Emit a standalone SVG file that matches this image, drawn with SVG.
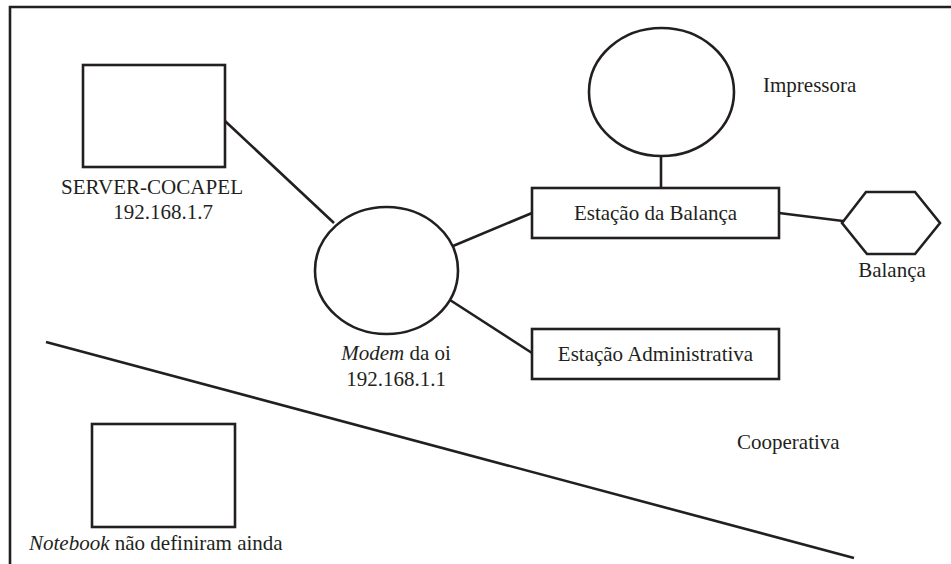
<svg xmlns="http://www.w3.org/2000/svg" width="951" height="564" viewBox="0 0 951 564">
<style>
.s{fill:none;stroke:#231f20;stroke-width:2.6}
.n{fill:#fff;stroke:#231f20;stroke-width:2.6}
text{font-size:21px;fill:#231f20}
.c{text-anchor:middle}
</style>
<rect width="951" height="564" fill="#fff"/>
<g id="frame">
<path class="s" d="M10,564 V7 H951" stroke-width="3"/>
<line class="s" x1="46" y1="342" x2="854" y2="558"/>
</g>
<g id="connectors">
<line class="s" x1="225" y1="121" x2="334" y2="223"/>
<line class="s" x1="453" y1="246" x2="532" y2="213"/>
<line class="s" x1="450" y1="300" x2="532" y2="353"/>
<line class="s" x1="661" y1="156" x2="661" y2="188"/>
<line class="s" x1="779" y1="213" x2="843" y2="221"/>
</g>
<g font-family="'Liberation Serif', 'DejaVu Serif', 'Times New Roman', serif">
<g id="server">
<rect class="n" x="83" y="65" width="142" height="102"/>
<text x="152" y="194" class="c" textLength="182" lengthAdjust="spacingAndGlyphs">SERVER-COCAPEL</text>
<text x="163" y="219" class="c">192.168.1.7</text>
</g>
<g id="modem">
<ellipse class="n" cx="386.5" cy="270.5" rx="71.5" ry="63.5"/>
<text x="396" y="360" class="c"><tspan font-style="italic">Modem</tspan> da oi</text>
<text x="396" y="386" class="c">192.168.1.1</text>
</g>
<g id="impressora">
<ellipse class="n" cx="661.5" cy="92" rx="72.5" ry="64"/>
<text x="763" y="92">Impressora</text>
</g>
<g id="estacao-balanca">
<rect class="n" x="532" y="188" width="247" height="50"/>
<text x="655.5" y="220" class="c">Estação da Balança</text>
</g>
<g id="balanca">
<polygon class="n" points="842,223 866,192 915,192 940,223 915,254 867,254"/>
<text x="892" y="277" class="c">Balança</text>
</g>
<g id="estacao-admin">
<rect class="n" x="532" y="329" width="247" height="50"/>
<text x="655.5" y="361" class="c">Estação Administrativa</text>
</g>
<g id="notebook">
<rect class="n" x="92" y="424" width="143" height="103"/>
<text x="29" y="550"><tspan font-style="italic">Notebook</tspan> não definiram ainda</text>
</g>
<g id="cooperativa">
<text x="737" y="449">Cooperativa</text>
</g>
</g>
</svg>
